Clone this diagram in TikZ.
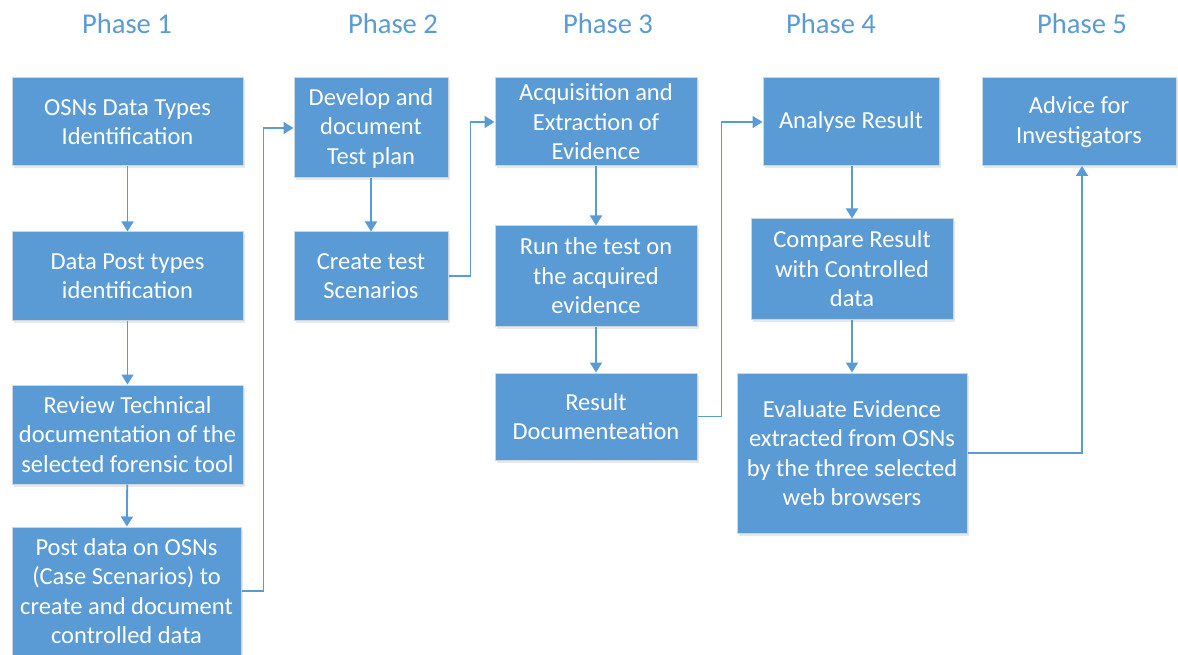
\documentclass[tikz,border=0pt]{standalone}
\usepackage{fontspec}
\setmainfont{Carlito}
\usetikzlibrary{arrows.meta,shadows}
\definecolor{officeblue}{HTML}{5B9BD5}
\definecolor{boxedge}{HTML}{C9D6E3}
\begin{document}
\begin{tikzpicture}[x=1pt,y=-1pt,
  box/.style={rectangle, fill=officeblue, draw=boxedge, line width=1pt, text=white,
    align=center, inner sep=0pt,
    font=\fontsize{24.5}{29.5}\selectfont,
    drop shadow={opacity=0.18, shadow xshift=1.5pt, shadow yshift=-2.5pt}},
  phase/.style={text=officeblue, anchor=base, inner sep=0pt, font=\fontsize{28.6}{34}\selectfont},
  conn/.style={draw=officeblue, line width=1.8pt, -{Triangle[width=12pt,length=10pt]}}]
\useasboundingbox (0,0) rectangle (1178,655);
\fill[white] (0,0) rectangle (1178,655);

% Phase headers
\node[phase] (ph1) at (127,34) {Phase 1};
\node[phase] (ph2) at (393,34) {Phase 2};
\node[phase] (ph3) at (608,34) {Phase 3};
\node[phase] (ph4) at (831,34) {Phase 4};
\node[phase] (ph5) at (1082,34) {Phase 5};

% Phase 1
\node[box, minimum width=231pt, minimum height=88pt] (a1) at (127.5,122) {OSNs Data Types\\Identification};
\node[box, minimum width=231pt, minimum height=88pt] (b1) at (127.5,276) {Data Post types\\identification};
\node[box, minimum width=231pt, minimum height=99pt] (c1) at (127.5,434.5) {Review Technical\\documentation of the\\selected forensic tool};
\node[box, minimum width=229pt, minimum height=128pt] (d1) at (126.5,591) {Post data on OSNs\\(Case Scenarios) to\\create and document\\controlled data};

% Phase 2
\node[box, minimum width=154pt, minimum height=100pt] (a2) at (371,128) {Develop and\\document\\Test plan};
\node[box, minimum width=154pt, minimum height=88pt] (b2) at (371,276) {Create test\\Scenarios};

% Phase 3
\node[box, minimum width=202pt, minimum height=88pt] (a3) at (596,122) {Acquisition and\\Extraction of\\Evidence};
\node[box, minimum width=202pt, minimum height=100pt] (b3) at (596,276) {Run the test on\\the acquired\\evidence};
\node[box, minimum width=202pt, minimum height=87pt] (c3) at (596,416.5) {Result\\Documenteation};

% Phase 4
\node[box, minimum width=176pt, minimum height=88pt] (a4) at (851,122) {Analyse Result};
\node[box, minimum width=202pt, minimum height=100pt] (b4) at (852,269) {Compare Result\\with Controlled\\data};
\node[box, minimum width=230pt, minimum height=160pt] (c4) at (852,453) {Evaluate Evidence\\extracted from OSNs\\by the three selected\\web browsers};

% Phase 5
\node[box, minimum width=194pt, minimum height=88pt] (a5) at (1079,122) {Advice for\\Investigators};

% vertical connectors
\draw[conn] (a1) -- (b1);
\draw[conn] (b1) -- (c1);
\draw[conn] (c1) -- (d1);
\draw[conn] (a2) -- (b2);
\draw[conn] (a3) -- (b3);
\draw[conn] (b3) -- (c3);
\draw[conn] (a4.south -| b4.north) -- (b4.north);
\draw[conn] (b4) -- (c4);

% elbow connectors
\draw[conn] (d1.east) -- ++(22,0) |- (a2.west);
\draw[conn] (b2.east) -- ++(22,0) |- (a3.west);
\draw[conn] (c3.east) -- ++(24,0) |- (a4.west);
\coordinate (up5) at (1082,166);
\draw[conn] (c4.east) -| (up5);
\end{tikzpicture}
\end{document}
